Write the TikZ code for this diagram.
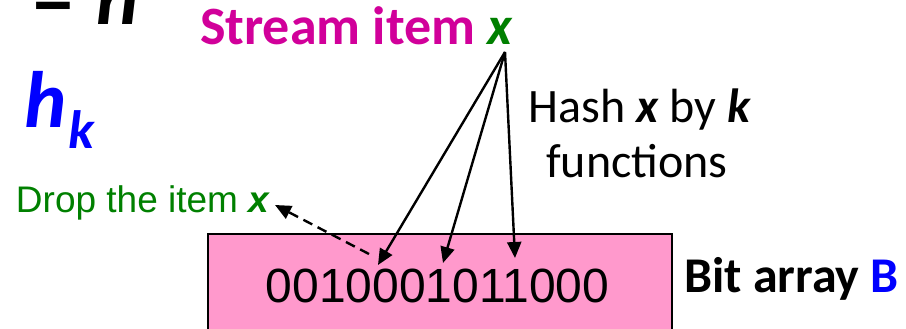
\documentclass[tikz,border=0pt]{standalone}
\usepackage{fontspec}
\setmainfont{Carlito}
\newfontfamily\arialf{Liberation Sans}
\usetikzlibrary{arrows.meta}
\definecolor{magentaT}{HTML}{D1009A}
\definecolor{greenT}{HTML}{008000}
\definecolor{blueT}{HTML}{0000FF}
\definecolor{pinkB}{HTML}{FF99CC}
\tikzset{
  txt/.style={inner sep=0pt, outer sep=0pt},
  hasharrow/.style={line width=2.4pt, -{Triangle[length=16pt,width=14pt]}},
  droparrow/.style={line width=2.4pt, dash pattern=on 10pt off 6pt, -{Triangle[length=16pt,width=14pt]}},
}
\begin{document}
\begin{tikzpicture}[x=1pt,y=-1pt]
\useasboundingbox (0,0) rectangle (906,329);
% bit array box
\node[draw=black, line width=2.2pt, fill=pinkB, minimum width=464pt, minimum height=130pt, anchor=north west, inner sep=0pt] (box) at (207,233) {};
\node[txt, anchor=base, font=\arialf\fontsize{48}{50}\selectfont] (bits) at (437.5,302) {0010001011000};
% labels
\node[txt, anchor=base west, font=\bfseries\fontsize{54}{58}\selectfont, text=magentaT] (stream) at (200,45) {Stream item \textcolor{greenT}{\textit{x}}};
\node[txt, anchor=base, font=\fontsize{48}{54}\selectfont] (hash) at (640,123) {Hash \textbf{\textit{x}} by \textbf{\textit{k}}};
\node[txt, anchor=base, font=\fontsize{48}{54}\selectfont] (func) at (637,177) {functions};
\node[txt, anchor=base west, font=\arialf\fontsize{37}{40}\selectfont, text=greenT] (drop) at (16,212) {Drop the item \textbf{\textit{x}}};
\node[txt, anchor=base west, font=\bfseries\fontsize{50}{54}\selectfont] (bitarr) at (684,292) {Bit array \textcolor{blueT}{B}};
\node[txt, anchor=base west, font=\bfseries\itshape\fontsize{80}{84}\selectfont, text=blueT] (h) at (24,128) {h};
\node[txt, anchor=base west, font=\bfseries\itshape\fontsize{54}{58}\selectfont, text=blueT] (k) at (68,148) {k};
\node[txt, anchor=base west, font=\bfseries\fontsize{80}{84}\selectfont] (eq) at (34,25) {=};
\node[txt, anchor=base west, font=\bfseries\itshape\fontsize{80}{84}\selectfont] (n) at (96,25) {n};
% connectors
\coordinate (src) at (505,52);
\coordinate (t1) at (378,265);
\coordinate (t2) at (443,263);
\coordinate (t3) at (515,258);
\coordinate (ds) at (369,254);
\coordinate (dt) at (275,205);
\draw[hasharrow] (src) -- (t1);
\draw[hasharrow] (src) -- (t2);
\draw[hasharrow] (src) -- (t3);
\draw[droparrow] (ds) -- (dt);
\end{tikzpicture}
\end{document}
